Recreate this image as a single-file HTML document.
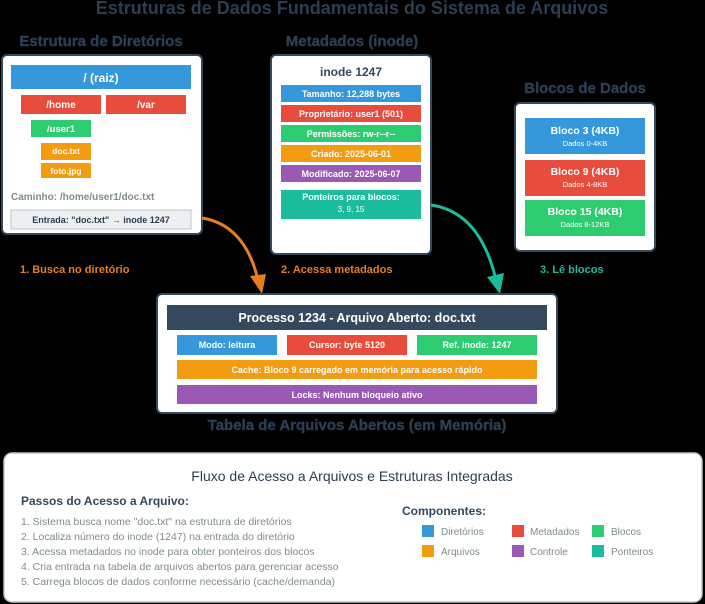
<!DOCTYPE html>
<html><head><meta charset="utf-8"><style>body{margin:0;background:#000}svg{display:block}text{font-family:"Liberation Sans",sans-serif}</style></head><body>
<svg width="705" height="604" viewBox="0 0 705 604">
<text x="352" y="14" text-anchor="middle" font-size="18" font-weight="bold" fill="#2c3e50">Estruturas de Dados Fundamentais do Sistema de Arquivos</text>
<g font-weight="bold" font-size="15" fill="#2c3e50" text-anchor="middle" stroke="#2c3e50" stroke-width="0.4">
<text x="101" y="46">Estrutura de Diretórios</text>
<text x="352" y="46">Metadados (inode)</text>
<text x="585" y="93">Blocos de Dados</text>
<text x="357" y="430">Tabela de Arquivos Abertos (em Memória)</text>
</g>
<rect x="2" y="55" width="200" height="179" rx="5" fill="#fff" stroke="#34495e" stroke-width="2"/>
<g font-weight="bold" fill="#fff" text-anchor="middle">
<rect x="11" y="65" width="180" height="24" fill="#3498db"/><text x="101" y="82" font-size="12">/ (raiz)</text>
<rect x="21" y="95" width="80" height="19" fill="#e74c3c"/><text x="61" y="108" font-size="10">/home</text>
<rect x="106" y="95" width="80" height="19" fill="#e74c3c"/><text x="146" y="108" font-size="10">/var</text>
<rect x="31" y="120" width="60" height="17" fill="#2ecc71"/><text x="61" y="132" font-size="9.5">/user1</text>
<rect x="41" y="143" width="50" height="17" fill="#f39c12"/><text x="66" y="154" font-size="8.5">doc.txt</text>
<rect x="41" y="163" width="50" height="15" fill="#f39c12"/><text x="66" y="174" font-size="8.5">foto.jpg</text>
</g>
<text x="11" y="200" font-size="10" font-weight="bold" fill="#7f8c8d">Caminho: /home/user1/doc.txt</text>
<rect x="11" y="210" width="180" height="19" fill="#ecf0f1" stroke="#bdc3c7"/>
<text x="101" y="223" text-anchor="middle" font-size="9" font-weight="bold" fill="#2c3e50">Entrada: "doc.txt" → inode 1247</text>
<rect x="271" y="55" width="160" height="199" rx="5" fill="#fff" stroke="#34495e" stroke-width="2"/>
<text x="351" y="76" text-anchor="middle" font-size="12" font-weight="bold" fill="#34495e">inode 1247</text>
<g font-weight="bold" fill="#fff" text-anchor="middle" font-size="9">
<rect x="281" y="85" width="140" height="17" fill="#3498db"/><text x="351" y="97">Tamanho: 12,288 bytes</text>
<rect x="281" y="105" width="140" height="17" fill="#e74c3c"/><text x="351" y="117">Proprietário: user1 (501)</text>
<rect x="281" y="125" width="140" height="17" fill="#2ecc71"/><text x="351" y="137">Permissões: rw-r--r--</text>
<rect x="281" y="145" width="140" height="17" fill="#f39c12"/><text x="351" y="157">Criado: 2025-06-01</text>
<rect x="281" y="165" width="140" height="17" fill="#9b59b6"/><text x="351" y="177">Modificado: 2025-06-07</text>
<rect x="281" y="190" width="140" height="29" fill="#1abc9c"/><text x="351" y="200">Ponteiros para blocos:</text>
<text x="351" y="212" font-weight="normal" font-size="8">3, 9, 15</text>
</g>
<rect x="515" y="103" width="140" height="148" rx="5" fill="#fff" stroke="#34495e" stroke-width="2"/>
<g fill="#fff" text-anchor="middle">
<rect x="525" y="118" width="120" height="36" fill="#3498db"/><text x="585" y="134" font-size="10.5" font-weight="bold">Bloco 3 (4KB)</text><text x="585" y="146" font-size="7.5">Dados 0-4KB</text>
<rect x="525" y="160" width="120" height="36" fill="#e74c3c"/><text x="585" y="175" font-size="10.5" font-weight="bold">Bloco 9 (4KB)</text><text x="585" y="187" font-size="7.5">Dados 4-8KB</text>
<rect x="525" y="200" width="120" height="36" fill="#2ecc71"/><text x="585" y="215" font-size="10.5" font-weight="bold">Bloco 15 (4KB)</text><text x="585" y="227" font-size="7.5">Dados 8-12KB</text>
</g>
<g font-size="11" font-weight="bold">
<text x="20" y="273" fill="#e67e22">1. Busca no diretório</text>
<text x="281" y="273" fill="#e67e22">2. Acessa metadados</text>
<text x="540" y="273" fill="#1abc9c">3. Lê blocos</text>
</g>
<path d="M202,218 Q245,225 258,280" fill="none" stroke="#e67e22" stroke-width="3"/>
<path d="M250,276 L262,294 L266,274 z" fill="#e67e22"/>
<path d="M431,205 Q480,212 496,280" fill="none" stroke="#1abc9c" stroke-width="3"/>
<path d="M487,277 L500,294 L504,273 z" fill="#1abc9c"/>
<rect x="157" y="294" width="400" height="119" rx="5" fill="#fff" stroke="#34495e" stroke-width="2"/>
<rect x="167" y="305" width="380" height="25" fill="#34495e"/>
<text x="357" y="322" text-anchor="middle" font-size="12.5" font-weight="bold" fill="#fff">Processo 1234 - Arquivo Aberto: doc.txt</text>
<g font-weight="bold" fill="#fff" text-anchor="middle" font-size="9">
<rect x="177" y="335" width="100" height="20" fill="#3498db"/><text x="227" y="348">Modo: leitura</text>
<rect x="287" y="335" width="120" height="20" fill="#e74c3c"/><text x="347" y="348">Cursor: byte 5120</text>
<rect x="417" y="335" width="120" height="20" fill="#2ecc71"/><text x="477" y="348">Ref. inode: 1247</text>
<rect x="177" y="360" width="360" height="19" fill="#f39c12"/><text x="357" y="373">Cache: Bloco 9 carregado em memória para acesso rápido</text>
<rect x="177" y="385" width="360" height="19" fill="#9b59b6"/><text x="357" y="398">Locks: Nenhum bloqueio ativo</text>
</g>
<rect x="4" y="453" width="698" height="149" rx="8" fill="#fff" stroke="#bdc3c7" stroke-width="1.5"/>
<text x="352" y="481" text-anchor="middle" font-size="14" fill="#2c3e50">Fluxo de Acesso a Arquivos e Estruturas Integradas</text>
<text x="21" y="505" font-size="12" font-weight="bold" fill="#34495e">Passos do Acesso a Arquivo:</text>
<g font-size="10.5" fill="#7f8c8d">
<text x="21" y="525">1. Sistema busca nome "doc.txt" na estrutura de diretórios</text>
<text x="21" y="540">2. Localiza número do inode (1247) na entrada do diretório</text>
<text x="21" y="555">3. Acessa metadados no inode para obter ponteiros dos blocos</text>
<text x="21" y="570">4. Cria entrada na tabela de arquivos abertos para gerenciar acesso</text>
<text x="21" y="585">5. Carrega blocos de dados conforme necessário (cache/demanda)</text>
</g>
<text x="402" y="515" font-size="12" font-weight="bold" fill="#34495e">Componentes:</text>
<g font-size="10" fill="#7f8c8d">
<rect x="422" y="525" width="12" height="12" fill="#3498db"/><text x="441" y="535">Diretórios</text>
<rect x="512" y="525" width="12" height="12" fill="#e74c3c"/><text x="530" y="535">Metadados</text>
<rect x="592" y="525" width="12" height="12" fill="#2ecc71"/><text x="611" y="535">Blocos</text>
<rect x="422" y="545" width="12" height="12" fill="#f39c12"/><text x="441" y="555">Arquivos</text>
<rect x="512" y="545" width="12" height="12" fill="#9b59b6"/><text x="530" y="555">Controle</text>
<rect x="592" y="545" width="12" height="12" fill="#1abc9c"/><text x="611" y="555">Ponteiros</text>
</g>
</svg>
</body></html>
